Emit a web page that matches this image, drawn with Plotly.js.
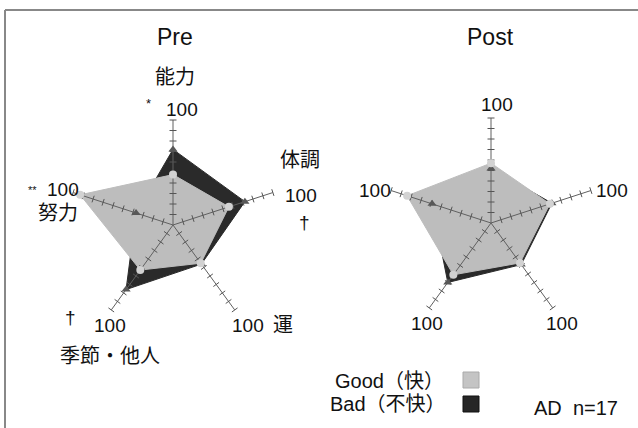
<!DOCTYPE html>
<html><head><meta charset="utf-8">
<script src="https://cdn.plot.ly/plotly-3.0.1.min.js"></script>
<style>html,body{margin:0;padding:0;background:#fff}#chart{width:638px;height:428px}</style>
</head><body><div id="chart"></div>
<script>
// ---- data ----
const categories = ['能力', '体調', '運', '季節・他人', '努力'];
const preGood  = [48, 56, 45, 53, 93];
const preBad   = [72, 72, 46, 76, 37];
const postGood = [57, 59, 47, 61, 84];
const postBad  = [52, 61, 49, 70, 59];
const tickValues = [10, 20, 30, 40, 50, 60, 70, 80, 90, 100];
const axisMax = 100;
const seriesNames = ['Good（快）', 'Bad（不快）'];

// ---- styles ----
const W = 638, H = 428;
const GOOD_FILL = '#bdbdbd', BAD_FILL = '#2a2a2a';
const LATIN = 'Liberation Sans, Arial, sans-serif';
const CJK = 'Liberation Sans, Noto Sans CJK JP, sans-serif';

function closed(a) { return a.concat([a[0]]); }

function polarTraces(sub, good, bad) {
  const t = [];
  t.push({type:'scatterpolar', subplot:sub, r:closed(bad), theta:closed(categories), mode:'lines',
    fill:'toself', fillcolor:BAD_FILL, line:{color:BAD_FILL, width:1}, hoverinfo:'skip', showlegend:false});
  t.push({type:'scatterpolar', subplot:sub, r:closed(good), theta:closed(categories), mode:'lines',
    fill:'toself', fillcolor:GOOD_FILL, line:{color:GOOD_FILL, width:1}, hoverinfo:'skip', showlegend:false});
  // spokes
  const sr = [], st = [];
  categories.forEach(c => { sr.push(0, axisMax, null); st.push(c, c, null); });
  t.push({type:'scatterpolar', subplot:sub, r:sr, theta:st, mode:'lines', cliponaxis:false,
    line:{color:'#606060', width:1}, hoverinfo:'skip', showlegend:false});
  // tick marks along spokes
  const tr = [], tt = [], ta = [];
  categories.forEach((c, i) => {
    tickValues.forEach(v => { tr.push(v); tt.push(c); ta.push(72 * i - 90); });
  });
  t.push({type:'scatterpolar', subplot:sub, r:tr, theta:tt, mode:'markers', cliponaxis:false,
    marker:{symbol:'line-ns', size:5, angle:ta, line:{color:'#555', width:1}},
    hoverinfo:'skip', showlegend:false});
  // markers
  t.push({type:'scatterpolar', subplot:sub, r:bad, theta:categories, mode:'markers', cliponaxis:false,
    marker:{symbol:'triangle-up', size:8, color:'#585858'}, hoverinfo:'skip', showlegend:false});
  t.push({type:'scatterpolar', subplot:sub, r:good, theta:categories, mode:'markers', cliponaxis:false,
    marker:{symbol:'circle', size:8, color:'#d2d2d2'}, hoverinfo:'skip', showlegend:false});
  return t;
}

function dom(cx, cy, r) {
  return {x:[(cx - r) / W, (cx + r) / W], y:[1 - (cy + r) / H, 1 - (cy - r) / H]};
}
function polarLayout(d) {
  return {domain:d, bgcolor:'rgba(0,0,0,0)', hole:0,
    radialaxis:{visible:false, range:[0, axisMax]},
    angularaxis:{visible:false, type:'category', categoryarray:categories, rotation:90, direction:'clockwise'}};
}
function ann(x, y, text, size, family, extra) {
  return Object.assign({xref:'paper', yref:'paper', x:x / W, y:1 - y / H, text:text, showarrow:false,
    xanchor:'center', yanchor:'middle', font:{size:size, family:family, color:'#111'}}, extra || {});
}
function px(x) { return x / W; }
function py(y) { return 1 - y / H; }

const data = polarTraces('polar', preGood, preBad).concat(polarTraces('polar2', postGood, postBad));

const annotations = [
  ann(175, 37, 'Pre', 23, LATIN),
  ann(490, 37, 'Post', 23, LATIN),
  // Pre axis labels
  ann(175, 77, categories[0], 20, CJK),
  ann(148, 103, '*', 13, LATIN),
  ann(182, 109, String(axisMax), 19, LATIN),
  ann(300, 160, categories[1], 20, CJK),
  ann(301, 195, String(axisMax), 19, LATIN),
  ann(304, 222, '†', 19, LATIN),
  ann(248, 325, String(axisMax), 19, LATIN),
  ann(283, 325, categories[2], 20, CJK),
  ann(110, 325, String(axisMax), 19, LATIN),
  ann(70, 317, '†', 19, LATIN),
  ann(110, 356, categories[3], 20, CJK),
  ann(63, 189, String(axisMax), 19, LATIN),
  ann(32, 190, '**', 11, LATIN),
  ann(58, 213, categories[4], 20, CJK),
  // Post axis labels
  ann(497, 105, String(axisMax), 19, LATIN),
  ann(612, 190, String(axisMax), 19, LATIN),
  ann(562, 323, String(axisMax), 19, LATIN),
  ann(427, 323, String(axisMax), 19, LATIN),
  ann(375, 190, String(axisMax), 19, LATIN),
  // legend
  ann(446, 381, seriesNames[0], 20, CJK, {xanchor:'right'}),
  ann(448, 404, seriesNames[1], 20, CJK, {xanchor:'right'}),
  ann(576, 408, 'AD&nbsp;&nbsp;n=17', 20, LATIN)
];

const shapes = [
  {type:'line', xref:'paper', yref:'paper', x0:px(5), y0:py(10), x1:px(640), y1:py(10), line:{color:'#888', width:2}},
  {type:'line', xref:'paper', yref:'paper', x0:px(5), y0:py(10), x1:px(5), y1:py(430), line:{color:'#888', width:2}},
  {type:'rect', xref:'paper', yref:'paper', x0:px(463), y0:py(388), x1:px(479), y1:py(372), fillcolor:'#c4c4c4', line:{color:'#aaa', width:1}},
  {type:'rect', xref:'paper', yref:'paper', x0:px(463), y0:py(412), x1:px(479), y1:py(396), fillcolor:'#262626', line:{color:'#111', width:1}}
];

const layout = {
  width:W, height:H, margin:{l:0, r:0, t:0, b:0},
  paper_bgcolor:'#fff', showlegend:false,
  polar:polarLayout(dom(173, 225, 105)),
  polar2:polarLayout(dom(491, 223, 105)),
  annotations:annotations, shapes:shapes
};

Plotly.newPlot('chart', data, layout, {displayModeBar:false, staticPlot:true});
</script>
</body></html>
